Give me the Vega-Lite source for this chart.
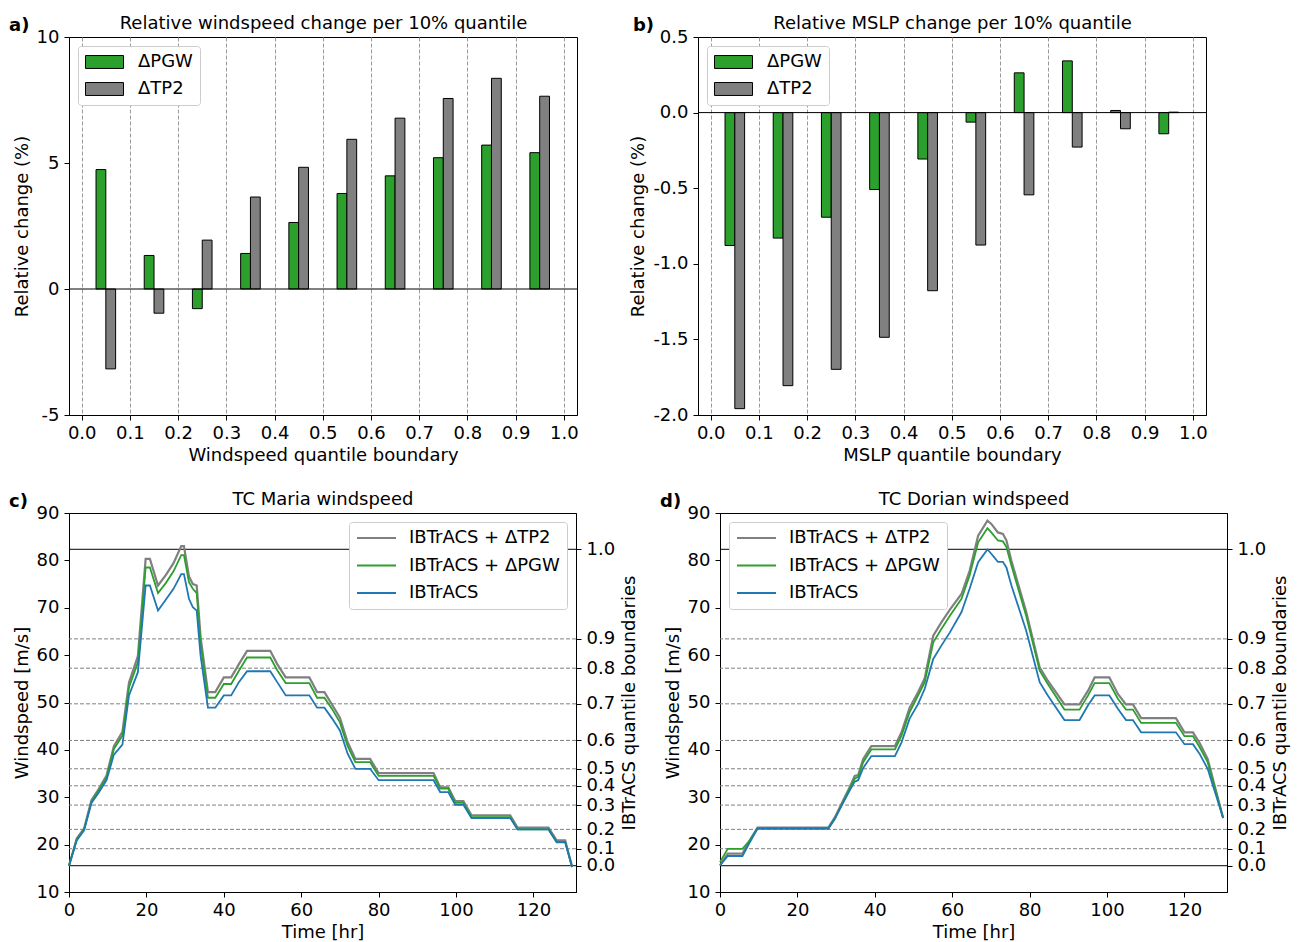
{
  "$schema": "https://vega.github.io/schema/vega-lite/v6.json",
  "padding": {"left": 8, "top": 13, "right": 5, "bottom": 0},
  "config": {
    "font": "DejaVu Sans",
    "view": {"stroke": "black", "strokeWidth": 1},
    "axis": {
      "labelFont": "DejaVu Sans", "titleFont": "DejaVu Sans",
      "labelFontSize": 18, "titleFontSize": 18, "titleFontWeight": "normal",
      "labelColor": "black", "titleColor": "black", "domainColor": "black", "tickColor": "black",
      "tickSize": 5, "labelPadding": 5, "titlePadding": 5, "grid": false,
      "labelFlush": false, "labelOverlap": false, "labelBound": false
    },
    "axisX": {"labelPadding": 4, "titlePadding": 4},
    "axisY": {"titlePadding": 5},
    "title": {"font": "DejaVu Sans", "fontSize": 18, "fontWeight": "bold", "color": "black"},
    "legend": {
      "labelFont": "DejaVu Sans", "labelFontSize": 18, "labelColor": "black",
      "fillColor": "white", "strokeColor": "#cccccc", "cornerRadius": 3,
      "offset": 9, "clipHeight": 18
    }
  },
  "datasets": {
    "wind": [
      {"q": 0.05, "pgw": 4.74, "tp2": -3.17},
      {"q": 0.15, "pgw": 1.33, "tp2": -0.96},
      {"q": 0.25, "pgw": -0.78, "tp2": 1.94},
      {"q": 0.35, "pgw": 1.41, "tp2": 3.65},
      {"q": 0.45, "pgw": 2.64, "tp2": 4.83},
      {"q": 0.55, "pgw": 3.79, "tp2": 5.94},
      {"q": 0.65, "pgw": 4.49, "tp2": 6.78},
      {"q": 0.75, "pgw": 5.21, "tp2": 7.56},
      {"q": 0.85, "pgw": 5.71, "tp2": 8.36},
      {"q": 0.95, "pgw": 5.41, "tp2": 7.65}
    ],
    "mslp": [
      {"q": 0.05, "pgw": -0.879, "tp2": -1.958},
      {"q": 0.15, "pgw": -0.830, "tp2": -1.806},
      {"q": 0.25, "pgw": -0.692, "tp2": -1.698},
      {"q": 0.35, "pgw": -0.509, "tp2": -1.486},
      {"q": 0.45, "pgw": -0.307, "tp2": -1.178},
      {"q": 0.55, "pgw": -0.063, "tp2": -0.876},
      {"q": 0.65, "pgw": 0.263, "tp2": -0.544},
      {"q": 0.75, "pgw": 0.342, "tp2": -0.228},
      {"q": 0.85, "pgw": 0.014, "tp2": -0.107},
      {"q": 0.95, "pgw": -0.14, "tp2": 0.003}
    ],
    "qb": [
      {"q": 0.0, "ws": 15.55}, {"q": 0.1, "ws": 19.14}, {"q": 0.2, "ws": 23.22},
      {"q": 0.3, "ws": 28.35}, {"q": 0.4, "ws": 32.42}, {"q": 0.5, "ws": 36.01},
      {"q": 0.6, "ws": 41.99}, {"q": 0.7, "ws": 49.72}, {"q": 0.8, "ws": 57.24},
      {"q": 0.9, "ws": 63.43}, {"q": 1.0, "ws": 82.34}
    ],
    "zero": [{"z": 0}],
    "maria": [
      {"t": 0, "ib": 15.6, "pgw": 15.6, "tp2": 15.5},
      {"t": 2, "ib": 20.9, "pgw": 21.1, "tp2": 21.3},
      {"t": 3.9, "ib": 23.0, "pgw": 23.2, "tp2": 23.4},
      {"t": 5.8, "ib": 28.8, "pgw": 29.1, "tp2": 29.4},
      {"t": 7.7, "ib": 31.0, "pgw": 31.4, "tp2": 31.8},
      {"t": 9.7, "ib": 33.6, "pgw": 34.1, "tp2": 34.6},
      {"t": 11.6, "ib": 39.0, "pgw": 40.2, "tp2": 40.8},
      {"t": 13.8, "ib": 41.1, "pgw": 43.0, "tp2": 43.8},
      {"t": 15.5, "ib": 51.5, "pgw": 53.2, "tp2": 54.2},
      {"t": 17.8, "ib": 56.4, "pgw": 58.5, "tp2": 59.8},
      {"t": 19.8, "ib": 74.7, "pgw": 78.5, "tp2": 80.3},
      {"t": 20.9, "ib": 74.7, "pgw": 78.5, "tp2": 80.3},
      {"t": 23, "ib": 69.4, "pgw": 73.1, "tp2": 74.7},
      {"t": 25, "ib": 71.7, "pgw": 75.2, "tp2": 76.9},
      {"t": 27, "ib": 74.0, "pgw": 77.7, "tp2": 79.4},
      {"t": 29, "ib": 77.1, "pgw": 81.1, "tp2": 83.0},
      {"t": 29.7, "ib": 77.1, "pgw": 81.1, "tp2": 83.0},
      {"t": 31, "ib": 71.9, "pgw": 75.4, "tp2": 76.6},
      {"t": 32, "ib": 70.1, "pgw": 74.0, "tp2": 75.0},
      {"t": 33, "ib": 69.4, "pgw": 73.1, "tp2": 74.7},
      {"t": 34, "ib": 59.9, "pgw": 62.5, "tp2": 63.8},
      {"t": 35.9, "ib": 48.9, "pgw": 51.0, "tp2": 52.2},
      {"t": 37.8, "ib": 48.9, "pgw": 51.0, "tp2": 52.2},
      {"t": 40, "ib": 51.5, "pgw": 53.9, "tp2": 55.3},
      {"t": 41.9, "ib": 51.5, "pgw": 53.9, "tp2": 55.3},
      {"t": 43.9, "ib": 54.3, "pgw": 56.7, "tp2": 58.1},
      {"t": 46, "ib": 56.6, "pgw": 59.5, "tp2": 60.9},
      {"t": 52, "ib": 56.6, "pgw": 59.5, "tp2": 60.9},
      {"t": 53.8, "ib": 54.3, "pgw": 56.8, "tp2": 58.1},
      {"t": 56, "ib": 51.5, "pgw": 54.1, "tp2": 55.3},
      {"t": 62.1, "ib": 51.5, "pgw": 54.1, "tp2": 55.3},
      {"t": 64.1, "ib": 48.9, "pgw": 51.0, "tp2": 52.2},
      {"t": 66, "ib": 48.9, "pgw": 51.0, "tp2": 52.2},
      {"t": 68, "ib": 46.6, "pgw": 48.6, "tp2": 49.5},
      {"t": 70, "ib": 44.1, "pgw": 45.8, "tp2": 46.8},
      {"t": 72, "ib": 39.2, "pgw": 40.8, "tp2": 41.6},
      {"t": 74, "ib": 36.0, "pgw": 37.4, "tp2": 38.1},
      {"t": 77.8, "ib": 36.0, "pgw": 37.4, "tp2": 38.1},
      {"t": 80, "ib": 33.6, "pgw": 34.5, "tp2": 35.1},
      {"t": 94.2, "ib": 33.6, "pgw": 34.5, "tp2": 35.1},
      {"t": 95.9, "ib": 31.1, "pgw": 31.8, "tp2": 32.1},
      {"t": 98, "ib": 31.1, "pgw": 31.8, "tp2": 32.1},
      {"t": 99.8, "ib": 28.4, "pgw": 28.8, "tp2": 29.2},
      {"t": 101.9, "ib": 28.4, "pgw": 28.8, "tp2": 29.2},
      {"t": 104, "ib": 25.6, "pgw": 25.8, "tp2": 26.2},
      {"t": 114, "ib": 25.6, "pgw": 25.8, "tp2": 26.2},
      {"t": 115.9, "ib": 23.2, "pgw": 23.2, "tp2": 23.6},
      {"t": 123.9, "ib": 23.2, "pgw": 23.2, "tp2": 23.6},
      {"t": 126, "ib": 20.5, "pgw": 20.6, "tp2": 20.9},
      {"t": 128.2, "ib": 20.5, "pgw": 20.6, "tp2": 20.9},
      {"t": 130, "ib": 15.3, "pgw": 15.3, "tp2": 15.3}
    ],
    "dorian": [
      {"t": 0, "ib": 15.6, "pgw": 16.3, "tp2": 15.6},
      {"t": 2, "ib": 17.6, "pgw": 19.1, "tp2": 18.1},
      {"t": 5.8, "ib": 17.6, "pgw": 19.1, "tp2": 18.1},
      {"t": 7.7, "ib": 20.5, "pgw": 20.9, "tp2": 20.9},
      {"t": 9.7, "ib": 23.4, "pgw": 23.4, "tp2": 23.6},
      {"t": 28, "ib": 23.4, "pgw": 23.4, "tp2": 23.6},
      {"t": 29.7, "ib": 25.5, "pgw": 25.5, "tp2": 25.8},
      {"t": 31.8, "ib": 28.8, "pgw": 29.0, "tp2": 29.3},
      {"t": 33.5, "ib": 31.4, "pgw": 31.8, "tp2": 32.1},
      {"t": 34.8, "ib": 33.3, "pgw": 33.9, "tp2": 34.5},
      {"t": 35.7, "ib": 33.6, "pgw": 34.3, "tp2": 34.7},
      {"t": 37, "ib": 36.2, "pgw": 37.4, "tp2": 38.1},
      {"t": 39.1, "ib": 38.7, "pgw": 40.1, "tp2": 40.8},
      {"t": 45.2, "ib": 38.7, "pgw": 40.1, "tp2": 40.8},
      {"t": 46.9, "ib": 41.6, "pgw": 43.0, "tp2": 43.7},
      {"t": 49, "ib": 46.6, "pgw": 48.0, "tp2": 48.9},
      {"t": 51.2, "ib": 49.7, "pgw": 51.5, "tp2": 52.2},
      {"t": 52.9, "ib": 52.9, "pgw": 54.3, "tp2": 55.1},
      {"t": 55.1, "ib": 59.2, "pgw": 62.7, "tp2": 64.1},
      {"t": 57.2, "ib": 62.0, "pgw": 65.5, "tp2": 66.9},
      {"t": 59.4, "ib": 64.8, "pgw": 68.3, "tp2": 69.6},
      {"t": 62.4, "ib": 69.1, "pgw": 71.9, "tp2": 72.9},
      {"t": 64.5, "ib": 74.0, "pgw": 76.8, "tp2": 77.8},
      {"t": 66.7, "ib": 79.6, "pgw": 83.8, "tp2": 85.2},
      {"t": 69.1, "ib": 82.3, "pgw": 86.8, "tp2": 88.4},
      {"t": 70.1, "ib": 81.4, "pgw": 85.9, "tp2": 87.7},
      {"t": 71.8, "ib": 79.7, "pgw": 84.2, "tp2": 85.9},
      {"t": 73.1, "ib": 79.7, "pgw": 84.0, "tp2": 85.6},
      {"t": 74, "ib": 78.5, "pgw": 82.8, "tp2": 84.2},
      {"t": 75.3, "ib": 74.7, "pgw": 78.9, "tp2": 79.9},
      {"t": 79.1, "ib": 65.2, "pgw": 68.3, "tp2": 69.2},
      {"t": 82.6, "ib": 54.3, "pgw": 56.7, "tp2": 57.4},
      {"t": 84.7, "ib": 51.5, "pgw": 53.9, "tp2": 54.6},
      {"t": 89, "ib": 46.3, "pgw": 48.5, "tp2": 49.6},
      {"t": 92.9, "ib": 46.3, "pgw": 48.5, "tp2": 49.6},
      {"t": 95.1, "ib": 49.4, "pgw": 51.5, "tp2": 52.5},
      {"t": 96.8, "ib": 51.5, "pgw": 54.1, "tp2": 55.3},
      {"t": 100.6, "ib": 51.5, "pgw": 54.1, "tp2": 55.3},
      {"t": 102.8, "ib": 48.7, "pgw": 50.8, "tp2": 51.8},
      {"t": 104.9, "ib": 46.3, "pgw": 48.5, "tp2": 49.6},
      {"t": 106.7, "ib": 46.3, "pgw": 48.5, "tp2": 49.6},
      {"t": 108.8, "ib": 43.7, "pgw": 45.7, "tp2": 46.7},
      {"t": 117.8, "ib": 43.7, "pgw": 45.7, "tp2": 46.7},
      {"t": 120, "ib": 41.2, "pgw": 42.9, "tp2": 43.7},
      {"t": 122.2, "ib": 41.2, "pgw": 42.9, "tp2": 43.7},
      {"t": 123.9, "ib": 39.2, "pgw": 40.6, "tp2": 41.5},
      {"t": 126, "ib": 36.0, "pgw": 37.4, "tp2": 38.1},
      {"t": 130, "ib": 25.6, "pgw": 25.6, "tp2": 25.6}
    ]
  },
  "resolve": {"scale": {"color": "independent"}, "legend": {"color": "independent"}},
  "spacing": 24,
  "vconcat": [
    {
      "spacing": 50,
      "resolve": {"scale": {"color": "independent"}, "legend": {"color": "independent"}},
      "hconcat": [
        {
          "width": 508, "height": 378,
          "title": {"text": "a)", "anchor": "start", "frame": "bounds", "baseline": "alphabetic", "offset": 0, "dx": -4, "dy": 35},
          "data": {"name": "wind"},
          "layer": [
            {
              "mark": {"type": "bar", "width": 9.8, "xOffset": -4.9, "stroke": "black", "strokeWidth": 1},
              "encoding": {
                "x": {"field": "q", "type": "quantitative", "scale": {"domain": [-0.016, 1.017], "nice": false, "zero": false},
                  "axis": {"orient": "bottom", "values": [0, 0.1, 0.2, 0.3, 0.4, 0.5, 0.6, 0.7, 0.8, 0.9, 1], "format": ".1f", "grid": true, "gridDash": [4, 2], "gridColor": "#9a9a9a", "gridWidth": 1, "title": "Windspeed quantile boundary"}},
                "y": {"field": "pgw", "type": "quantitative", "scale": {"domain": [-5, 10], "nice": false},
                  "axis": {"orient": "left", "values": [-5, 0, 5, 10], "format": "d", "labelExpr": "replace(datum.label, '−', '-')", "title": "Relative change (%)"}},
                "color": {"datum": "ΔPGW", "type": "nominal", "scale": {"domain": ["ΔPGW", "ΔTP2"], "range": ["#2ca02c", "#808080"]},
                  "legend": {"title": null, "orient": "top-left", "symbolType": "M-1,-0.34H1V0.34H-1Z", "symbolSize": 1444, "symbolStrokeColor": "black", "symbolStrokeWidth": 1, "symbolOpacity": 1, "padding": 7, "rowPadding": 9, "labelOffset": 14}}
              }
            },
            {
              "mark": {"type": "bar", "width": 9.8, "xOffset": 4.9, "stroke": "black", "strokeWidth": 1},
              "encoding": {
                "x": {"field": "q", "type": "quantitative",
                  "axis": {"orient": "top", "title": "Relative windspeed change per 10% quantile", "labels": false, "ticks": false, "domain": false, "grid": false, "titlePadding": 5}},
                "y": {"field": "tp2", "type": "quantitative", "axis": null},
                "color": {"datum": "ΔTP2", "type": "nominal"}
              }
            },
            {
              "data": {"name": "zero"},
              "mark": {"type": "rule", "color": "black", "strokeWidth": 1},
              "encoding": {"y": {"field": "z", "type": "quantitative", "axis": null}}
            }
          ],
          "resolve": {"axis": {"x": "independent", "y": "independent"}}
        },
        {
          "width": 508, "height": 378,
          "title": {"text": "b)", "anchor": "start", "frame": "bounds", "baseline": "alphabetic", "offset": 0, "dx": 3, "dy": 35},
          "data": {"name": "mslp"},
          "layer": [
            {
              "mark": {"type": "bar", "width": 9.8, "xOffset": -4.9, "stroke": "black", "strokeWidth": 1},
              "encoding": {
                "x": {"field": "q", "type": "quantitative", "scale": {"domain": [-0.016, 1.017], "nice": false, "zero": false},
                  "axis": {"orient": "bottom", "values": [0, 0.1, 0.2, 0.3, 0.4, 0.5, 0.6, 0.7, 0.8, 0.9, 1], "format": ".1f", "grid": true, "gridDash": [4, 2], "gridColor": "#9a9a9a", "gridWidth": 1, "title": "MSLP quantile boundary"}},
                "y": {"field": "pgw", "type": "quantitative", "scale": {"domain": [-2, 0.5], "nice": false},
                  "axis": {"orient": "left", "values": [-2, -1.5, -1, -0.5, 0, 0.5], "format": ".1f", "labelExpr": "replace(datum.label, '−', '-')", "title": "Relative change (%)"}},
                "color": {"datum": "ΔPGW", "type": "nominal", "scale": {"domain": ["ΔPGW", "ΔTP2"], "range": ["#2ca02c", "#808080"]},
                  "legend": {"title": null, "orient": "top-left", "symbolType": "M-1,-0.34H1V0.34H-1Z", "symbolSize": 1444, "symbolStrokeColor": "black", "symbolStrokeWidth": 1, "symbolOpacity": 1, "padding": 7, "rowPadding": 9, "labelOffset": 14}}
              }
            },
            {
              "mark": {"type": "bar", "width": 9.8, "xOffset": 4.9, "stroke": "black", "strokeWidth": 1},
              "encoding": {
                "x": {"field": "q", "type": "quantitative",
                  "axis": {"orient": "top", "title": "Relative MSLP change per 10% quantile", "labels": false, "ticks": false, "domain": false, "grid": false, "titlePadding": 5}},
                "y": {"field": "tp2", "type": "quantitative", "axis": null},
                "color": {"datum": "ΔTP2", "type": "nominal"}
              }
            },
            {
              "data": {"name": "zero"},
              "mark": {"type": "rule", "color": "black", "strokeWidth": 1},
              "encoding": {"y": {"field": "z", "type": "quantitative", "axis": null}}
            }
          ],
          "resolve": {"axis": {"x": "independent", "y": "independent"}}
        }
      ]
    },
    {
      "spacing": 19,
      "resolve": {"scale": {"color": "independent"}, "legend": {"color": "independent"}},
      "hconcat": [
        {
          "width": 507, "height": 379,
          "title": {"text": "c)", "anchor": "start", "frame": "bounds", "baseline": "alphabetic", "offset": 0, "dx": -4, "dy": 35},
          "layer": [
            {
              "data": {"name": "qb"},
              "transform": [{"filter": "datum.q > 0.05 && datum.q < 0.95"}],
              "mark": {"type": "rule", "color": "#808080", "strokeDash": [4, 2], "strokeWidth": 1},
              "encoding": {"y": {"field": "ws", "type": "quantitative", "scale": {"domain": [10, 90], "nice": false, "zero": false},
                "axis": {"orient": "right", "values": [15.55, 19.14, 23.22, 28.35, 32.42, 36.01, 41.99, 49.72, 57.24, 63.43, 82.34], "labelExpr": "format(indexof([15.55, 19.14, 23.22, 28.35, 32.42, 36.01, 41.99, 49.72, 57.24, 63.43, 82.34], datum.value) / 10, '.1f')", "title": "IBTrACS quantile boundaries", "titleAngle": 270, "titleBaseline": "top", "titlePadding": 6}}}
            },
            {
              "data": {"name": "qb"},
              "transform": [{"filter": "datum.q < 0.05 || datum.q > 0.95"}],
              "mark": {"type": "rule", "color": "black", "strokeWidth": 1},
              "encoding": {"y": {"field": "ws", "type": "quantitative", "axis": null}}
            },
            {
              "data": {"name": "maria"},
              "mark": {"type": "line", "strokeWidth": 2.2},
              "encoding": {
                "x": {"field": "t", "type": "quantitative", "scale": {"domain": [0, 131], "nice": false, "zero": false},
                  "axis": {"orient": "bottom", "values": [0, 20, 40, 60, 80, 100, 120], "title": "Time [hr]"}},
                "y": {"field": "tp2", "type": "quantitative", "scale": {"domain": [10, 90], "nice": false, "zero": false},
                  "axis": {"orient": "left", "values": [10, 20, 30, 40, 50, 60, 70, 80, 90], "title": "Windspeed [m/s]"}},
                "color": {"datum": "IBTrACS + ΔTP2", "type": "nominal", "scale": {"domain": ["IBTrACS + ΔTP2", "IBTrACS + ΔPGW", "IBTrACS"], "range": ["#808080", "#2ca02c", "#1f77b4"]},
                  "legend": {"title": null, "orient": "top-right", "symbolType": "stroke", "symbolSize": 1521, "symbolStrokeWidth": 2, "padding": 7, "rowPadding": 9.5, "labelOffset": 12}}
              }
            },
            {
              "data": {"name": "maria"},
              "mark": {"type": "line", "strokeWidth": 1.8},
              "encoding": {
                "x": {"field": "t", "type": "quantitative",
                  "axis": {"orient": "top", "title": "TC Maria windspeed", "labels": false, "ticks": false, "domain": false, "grid": false, "titlePadding": 5}},
                "y": {"field": "pgw", "type": "quantitative", "axis": null},
                "color": {"datum": "IBTrACS + ΔPGW", "type": "nominal"}
              }
            },
            {
              "data": {"name": "maria"},
              "mark": {"type": "line", "strokeWidth": 1.8},
              "encoding": {
                "x": {"field": "t", "type": "quantitative", "axis": null},
                "y": {"field": "ib", "type": "quantitative", "axis": null},
                "color": {"datum": "IBTrACS", "type": "nominal"}
              }
            }
          ],
          "resolve": {"axis": {"x": "independent", "y": "independent"}}
        },
        {
          "width": 507, "height": 379,
          "title": {"text": "d)", "anchor": "start", "frame": "bounds", "baseline": "alphabetic", "offset": 0, "dx": -4, "dy": 35},
          "layer": [
            {
              "data": {"name": "qb"},
              "transform": [{"filter": "datum.q > 0.05 && datum.q < 0.95"}],
              "mark": {"type": "rule", "color": "#808080", "strokeDash": [4, 2], "strokeWidth": 1},
              "encoding": {"y": {"field": "ws", "type": "quantitative", "scale": {"domain": [10, 90], "nice": false, "zero": false},
                "axis": {"orient": "right", "values": [15.55, 19.14, 23.22, 28.35, 32.42, 36.01, 41.99, 49.72, 57.24, 63.43, 82.34], "labelExpr": "format(indexof([15.55, 19.14, 23.22, 28.35, 32.42, 36.01, 41.99, 49.72, 57.24, 63.43, 82.34], datum.value) / 10, '.1f')", "title": "IBTrACS quantile boundaries", "titleAngle": 270, "titleBaseline": "top", "titlePadding": 6}}}
            },
            {
              "data": {"name": "qb"},
              "transform": [{"filter": "datum.q < 0.05 || datum.q > 0.95"}],
              "mark": {"type": "rule", "color": "black", "strokeWidth": 1},
              "encoding": {"y": {"field": "ws", "type": "quantitative", "axis": null}}
            },
            {
              "data": {"name": "dorian"},
              "mark": {"type": "line", "strokeWidth": 2.2},
              "encoding": {
                "x": {"field": "t", "type": "quantitative", "scale": {"domain": [0, 131], "nice": false, "zero": false},
                  "axis": {"orient": "bottom", "values": [0, 20, 40, 60, 80, 100, 120], "title": "Time [hr]"}},
                "y": {"field": "tp2", "type": "quantitative", "scale": {"domain": [10, 90], "nice": false, "zero": false},
                  "axis": {"orient": "left", "values": [10, 20, 30, 40, 50, 60, 70, 80, 90], "title": "Windspeed [m/s]"}},
                "color": {"datum": "IBTrACS + ΔTP2", "type": "nominal", "scale": {"domain": ["IBTrACS + ΔTP2", "IBTrACS + ΔPGW", "IBTrACS"], "range": ["#808080", "#2ca02c", "#1f77b4"]},
                  "legend": {"title": null, "orient": "top-left", "symbolType": "stroke", "symbolSize": 1521, "symbolStrokeWidth": 2, "padding": 7, "rowPadding": 9.5, "labelOffset": 12}}
              }
            },
            {
              "data": {"name": "dorian"},
              "mark": {"type": "line", "strokeWidth": 1.8},
              "encoding": {
                "x": {"field": "t", "type": "quantitative",
                  "axis": {"orient": "top", "title": "TC Dorian windspeed", "labels": false, "ticks": false, "domain": false, "grid": false, "titlePadding": 5}},
                "y": {"field": "pgw", "type": "quantitative", "axis": null},
                "color": {"datum": "IBTrACS + ΔPGW", "type": "nominal"}
              }
            },
            {
              "data": {"name": "dorian"},
              "mark": {"type": "line", "strokeWidth": 1.8},
              "encoding": {
                "x": {"field": "t", "type": "quantitative", "axis": null},
                "y": {"field": "ib", "type": "quantitative", "axis": null},
                "color": {"datum": "IBTrACS", "type": "nominal"}
              }
            }
          ],
          "resolve": {"axis": {"x": "independent", "y": "independent"}}
        }
      ]
    }
  ]
}
